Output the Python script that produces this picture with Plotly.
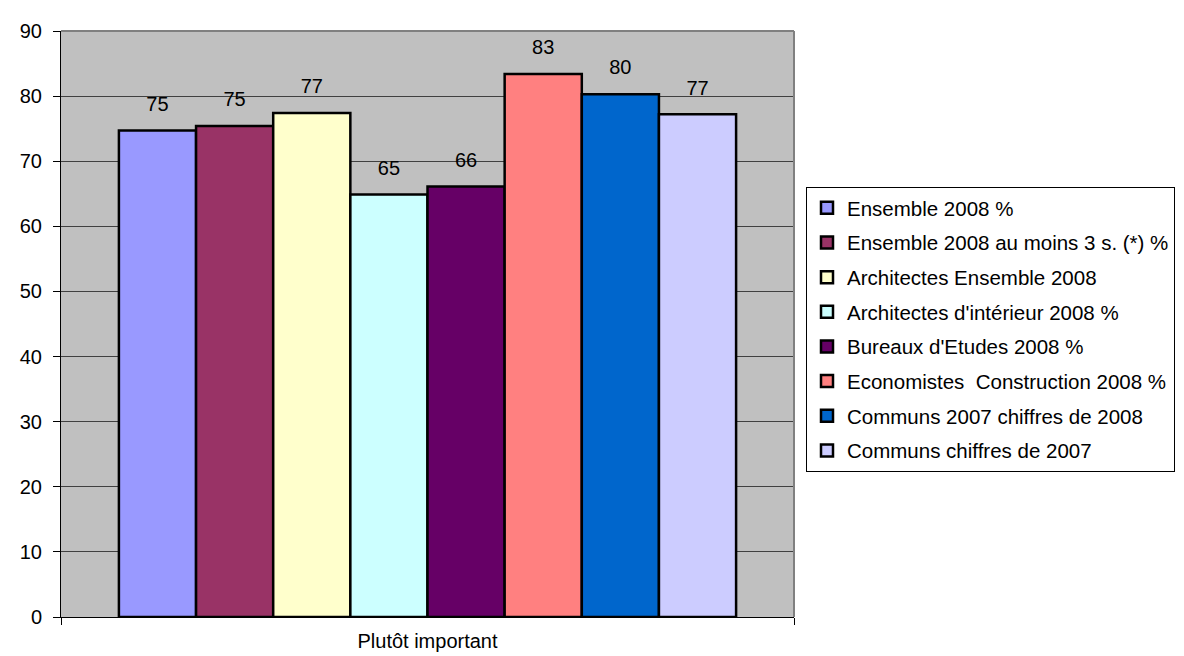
import plotly.graph_objects as go

category = ["Plutôt important"]
series_names = [
    "Ensemble 2008 %",
    "Ensemble 2008 au moins 3 s. (*) %",
    "Architectes Ensemble 2008",
    "Architectes d'intérieur 2008 %",
    "Bureaux d'Etudes 2008 %",
    "Economistes  Construction 2008 %",
    "Communs 2007 chiffres de 2008",
    "Communs chiffres de 2007",
]
values = [74.7, 75.4, 77.4, 64.9, 66.1, 83.4, 80.3, 77.2]
labels = ["75", "75", "77", "65", "66", "83", "80", "77"]
colors = ["#9999FF", "#993366", "#FFFFCC", "#CCFFFF", "#660066", "#FF8080", "#0066CC", "#CCCCFF"]
y_ticks = [0, 10, 20, 30, 40, 50, 60, 70, 80, 90]

FONT = "Liberation Sans, Arial, sans-serif"
GAP = 0.158

fig = go.Figure()
for i, (name, v, c) in enumerate(zip(series_names, values, colors)):
    fig.add_trace(go.Bar(
        x=category, y=[v], name=name,
        marker=dict(color=c, line=dict(color="black", width=2.5)),
        legendgroup=f"g{i}", offsetgroup=f"g{i}",
    ))
# value labels (grouped scatter, same slots as the bars)
for i, (v, lab) in enumerate(zip(values, labels)):
    fig.add_trace(go.Scatter(
        x=category, y=[v], mode="markers+text", text=[lab],
        textposition="top center",
        textfont=dict(size=20, color="black", family=FONT),
        marker=dict(size=22, opacity=0, color="black"),
        showlegend=False, hoverinfo="skip", cliponaxis=False,
        offsetgroup=f"g{i}",
    ))

W, H = 1184, 656
L, R, T, B = 51, W - 792, 20, H - 615

fig.update_layout(
    width=W, height=H,
    margin=dict(l=L, r=R, t=T, b=B),
    barmode="group", bargap=GAP, bargroupgap=0,
    scattermode="group", scattergap=GAP,
    plot_bgcolor="#C0C0C0", paper_bgcolor="white",
    font=dict(family=FONT, size=20, color="black"),
    showlegend=True,
    legend=dict(
        xref="container", yref="container",
        x=798 / W, xanchor="left",
        y=1 - 179 / H, yanchor="top",
        bgcolor="white", bordercolor="black", borderwidth=1,
        font=dict(size=20.5, family=FONT, color="black"),
        traceorder="grouped", tracegroupgap=5,
        itemclick=False,
    ),
)
fig.update_yaxes(
    range=[0, 90], tickvals=y_ticks, showgrid=True, gridcolor="#404040", gridwidth=1,
    showline=True, linecolor="black", linewidth=1, ticks="outside", ticklen=7,
    tickcolor="black", zeroline=False, tickfont=dict(size=20), ticklabelstandoff=7,
)
fig.update_xaxes(
    showline=True, linecolor="black", linewidth=1, ticks="outside", ticklen=7,
    tickcolor="black", tickson="boundaries", showgrid=False,
    tickfont=dict(size=20), ticklabelstandoff=6,
)
# gray frame on top and right of the plot area
fig.add_shape(type="line", xref="paper", yref="paper", x0=0, x1=1, y0=1, y1=1,
              line=dict(color="#808080", width=2))
fig.add_shape(type="line", xref="paper", yref="paper", x0=1, x1=1, y0=0, y1=1,
              line=dict(color="#808080", width=2))

fig.write_html("out.html")
